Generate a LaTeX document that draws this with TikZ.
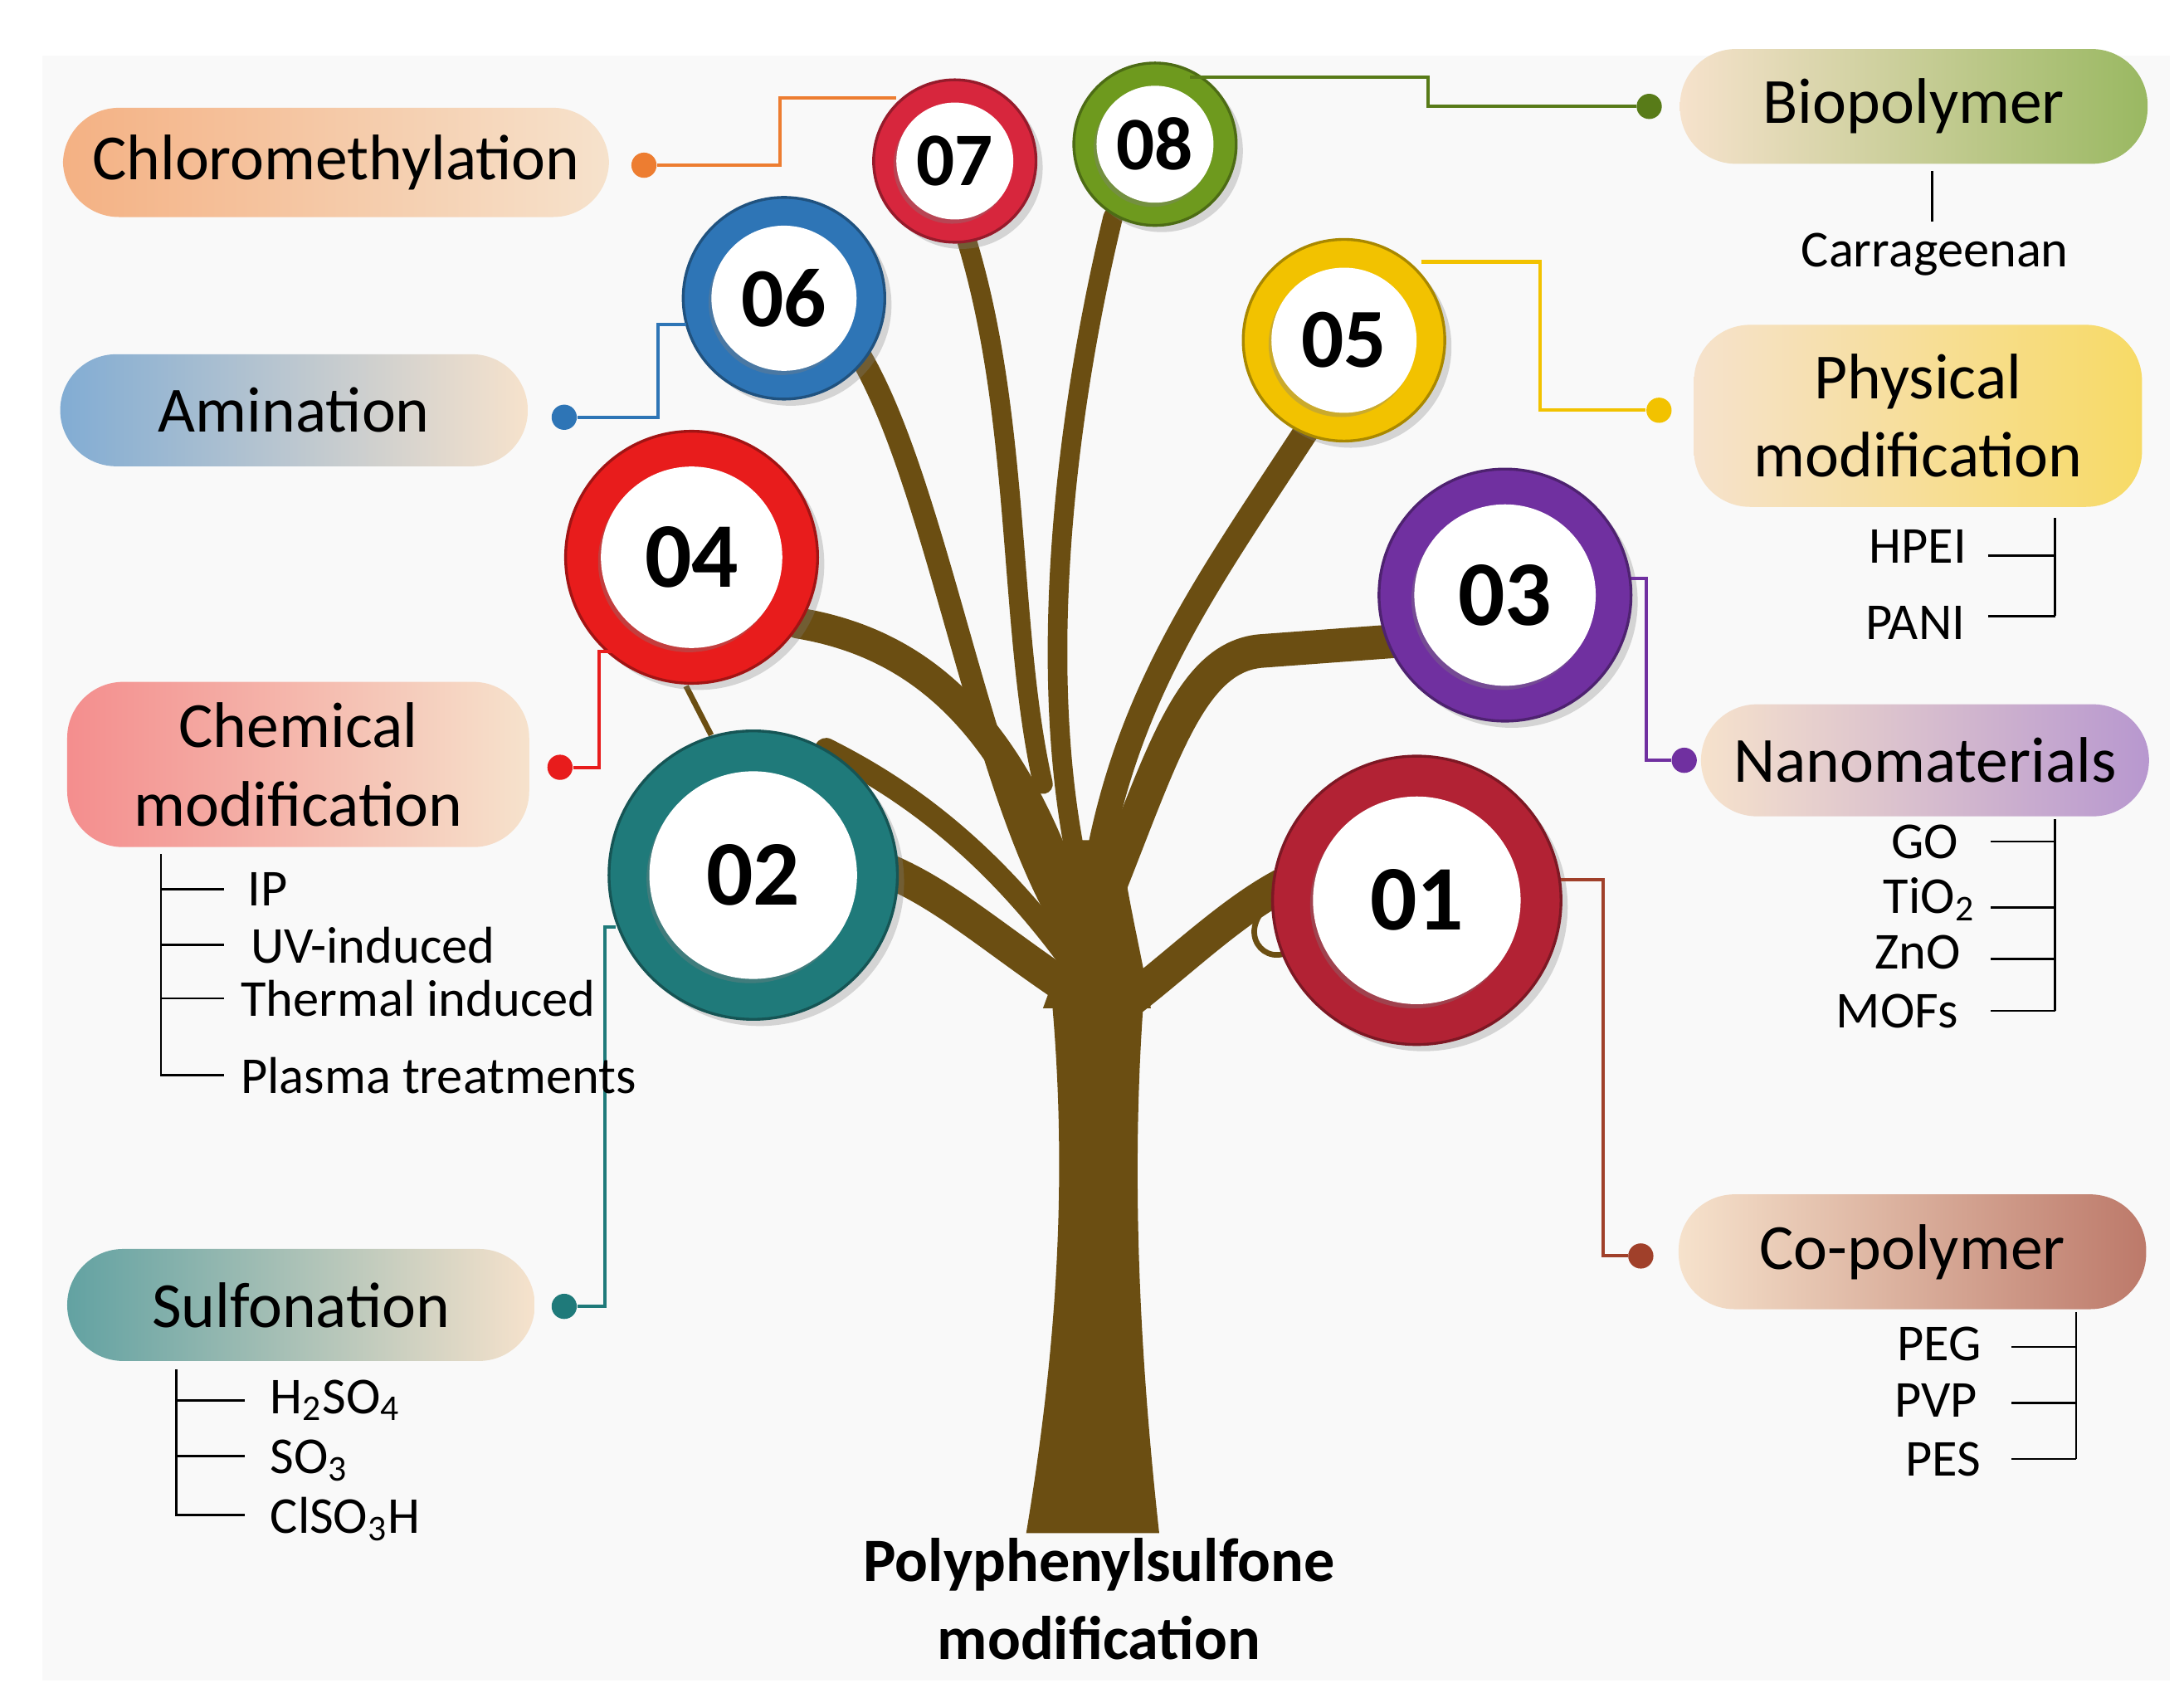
\documentclass[tikz,border=0pt]{standalone}
\usepackage{fontspec}
\setmainfont{Carlito}
\usetikzlibrary{shadows}
\definecolor{tree}{HTML}{6B4E12}
\definecolor{cOr}{HTML}{ED7D31}
\definecolor{cRed7}{HTML}{D7263D}
\definecolor{cGr}{HTML}{6E9A1E}
\definecolor{cBl}{HTML}{2E75B6}
\definecolor{cYe}{HTML}{F2C200}
\definecolor{cRe4}{HTML}{E81C1C}
\definecolor{cPu}{HTML}{7030A0}
\definecolor{cTe}{HTML}{1F7A7A}
\definecolor{cDr}{HTML}{B22234}
\definecolor{cBr}{HTML}{A0402A}
\definecolor{beige}{HTML}{F6E2CC}
\begin{document}
\begin{tikzpicture}[x=0.5pt,y=-0.5pt,
 pill/.style={rounded corners=20pt,inner sep=0pt,font=\fontsize{23}{26}\selectfont,align=center},
 ring/.style={circle,fill=#1,draw=#1!70!black,line width=1pt,inner sep=0pt,drop shadow={opacity=0.3}},
 inner/.style={circle,fill=white,inner sep=0pt,font=\bfseries,drop shadow={opacity=0.35,shadow xshift=-1pt,shadow yshift=-1.5pt}},
 con/.style={line width=1.2pt,#1},
 dot/.style={circle,fill=#1,inner sep=0pt,minimum size=9pt},
 lst/.style={font=\fontsize{18.5}{20}\selectfont},
 br/.style={line width=0.8pt,black},
 br line/.style={line width=12pt,tree,line cap=round}]
\useasboundingbox (0,0) rectangle (1560,1209);
\fill[white] (0,0) rectangle (1560,1209);
\fill[gray!5] (30,40) rectangle (1550,1200);
% tree
\fill[tree] (733,1095) -- (828,1095) .. controls (812,950) and (808,820) .. (818,700) -- (750,700) .. controls (765,850) and (752,980) .. (733,1095) -- cycle;
\fill[tree] (745,720) .. controls (760,680) and (770,640) .. (770,600) -- (800,600) .. controls (805,640) and (815,680) .. (822,720) -- cycle;
\draw[br line] (800,720) .. controls (840,690) and (880,650) .. (920,630);
\draw[br line] (790,640) .. controls (830,540) and (850,470) .. (900,465) -- (995,458);
\draw[br line,line width=9pt] (780,640) .. controls (800,500) and (860,420) .. (935,305);
\draw[br line,line width=7pt] (770,620) .. controls (740,480) and (760,300) .. (795,155);
\draw[br line,line width=7pt] (745,560) .. controls (720,450) and (730,300) .. (690,170);
\draw[br line,line width=8pt] (760,660) .. controls (700,560) and (670,350) .. (615,255);
\draw[br line,line width=11pt] (775,680) .. controls (730,520) and (660,460) .. (570,445);
\draw[br line] (785,720) .. controls (720,680) and (680,640) .. (630,620);
\draw[br line,line width=8pt] (760,680) .. controls (700,600) and (640,560) .. (590,535);
\draw[tree,line width=2pt] (490,490) -- (508,525);
\draw[tree,line width=2pt] (915,640) .. controls (880,660) and (900,690) .. (920,680);
% pills
\node[pill,minimum width=195pt,minimum height=39pt,left color=cOr!60,right color=beige] (chl) at (240,116) {Chloromethylation};
\node[pill,minimum width=167pt,minimum height=41pt,left color=beige,right color=cGr!70] (bio) at (1367,76) {Biopolymer};
\node[pill,minimum width=167pt,minimum height=40pt,left color=cBl!60,right color=beige] (ami) at (210,293) {Amination};
\node[pill,minimum width=160pt,minimum height=65pt,left color=beige,right color=cYe!60] (phy) at (1370,297) {Physical\\[2pt]modification};
\node[pill,minimum width=165pt,minimum height=59pt,left color=cRe4!50,right color=beige] (chem) at (213,546) {Chemical\\[2pt]modification};
\node[pill,minimum width=160pt,minimum height=40pt,left color=beige,right color=cPu!50] (nano) at (1375,543) {Nanomaterials};
\node[pill,minimum width=167pt,minimum height=40pt,left color=cTe!70,right color=beige] (sul) at (215,932) {Sulfonation};
\node[pill,minimum width=167pt,minimum height=41pt,left color=beige,right color=cBr!70] (cop) at (1366,894) {Co-polymer};
% circles
\foreach \n/\x/\y/\d/\c/\f in {07/682/115/58/cRed7/27,08/825/103/58/cGr/27,06/560/213/72/cBl/30,05/960/243/72/cYe/30,04/494/398/90/cRe4/33,03/1075/425/90/cPu/33,02/538/625/103/cTe/33,01/1012/643/103/cDr/33}{
 \node[ring=\c,minimum size=\d pt] (r\n) at (\x,\y) {};
 \node[inner,minimum size=0.72*\d pt,font=\bfseries\fontsize{\f}{\f}\selectfont] (c\n) at (\x,\y) {\n};
}
% connectors
\node[dot=cOr] (d7) at (460,118) {};
\coordinate (e7) at (640,70);
\draw[con=cOr] (d7) -- (557,118) -- (557,70) -- (e7);
\node[dot=cGr!80!black] (d8) at (1178,76) {};
\coordinate (e8) at (850,55);
\draw[con=cGr!80!black] (e8) -- (1020,55) -- (1020,76) -- (d8);
\node[dot=cBl] (d6) at (403,298) {};
\coordinate (e6) at (490,232);
\draw[con=cBl] (d6) -- (470,298) -- (470,232) -- (e6);
\node[dot=cYe] (d5) at (1185,293) {};
\coordinate (e5) at (1015,187);
\draw[con=cYe] (e5) -- (1100,187) -- (1100,293) -- (d5);
\node[dot=cRe4] (d4) at (400,548) {};
\coordinate (e4) at (440,465);
\draw[con=cRe4] (d4) -- (428,548) -- (428,465) -- (e4);
\node[dot=cPu] (d3) at (1203,543) {};
\coordinate (e3) at (1165,413);
\draw[con=cPu] (e3) -- (1176,413) -- (1176,543) -- (d3);
\node[dot=cTe] (d2) at (403,933) {};
\coordinate (e2) at (440,662);
\draw[con=cTe] (d2) -- (432,933) -- (432,662) -- (e2);
\node[dot=cBr] (d1) at (1172,897) {};
\coordinate (e1) at (1115,628);
\draw[con=cBr] (e1) -- (1145,628) -- (1145,897) -- (d1);
% lists
\node[lst] (carr) at (1382,182) {Carrageenan};
\draw[br] (1380,122) -- (1380,158);
\node[lst] at (1370,390) {HPEI};
\node[lst] at (1368,445) {PANI};
\draw[br] (1468,370) -- (1468,440) (1420,397) -- (1468,397) (1420,440) -- (1468,440);
\node[lst,anchor=west] at (170,635) {IP};
\node[lst,anchor=west] at (172,675) {UV-induced};
\node[lst,anchor=west] at (165,713) {Thermal induced};
\node[lst,anchor=west] at (165,768) {Plasma treatments};
\draw[br] (115,610) -- (115,768) -- (160,768) (115,635) -- (160,635) (115,675) -- (160,675) (115,713) -- (160,713);
\node[lst] at (1375,601) {GO};
\node[lst] at (1378,642) {TiO\textsubscript{2}};
\node[lst] at (1370,680) {ZnO};
\node[lst] at (1355,722) {MOFs};
\draw[br] (1468,585) -- (1468,722) (1422,601) -- (1468,601) (1422,648) -- (1468,648) (1422,685) -- (1468,685) (1422,722) -- (1468,722);
\node[lst,anchor=west] at (186,1000) {H\textsubscript{2}SO\textsubscript{4}};
\node[lst,anchor=west] at (186,1043) {SO\textsubscript{3}};
\node[lst,anchor=west] at (186,1085) {ClSO\textsubscript{3}H};
\draw[br] (126,978) -- (126,1082) -- (175,1082) (126,1000) -- (175,1000) (126,1040) -- (175,1040);
\node[lst] at (1385,960) {PEG};
\node[lst] at (1383,1000) {PVP};
\node[lst] at (1388,1042) {PES};
\draw[br] (1483,937) -- (1483,1042) (1437,962) -- (1483,962) (1437,1002) -- (1483,1002) (1437,1042) -- (1483,1042);
\node[font=\bfseries\fontsize{22}{28}\selectfont,align=center] (title) at (785,1142) {Polyphenylsulfone\\modification};
\end{tikzpicture}
\end{document}
